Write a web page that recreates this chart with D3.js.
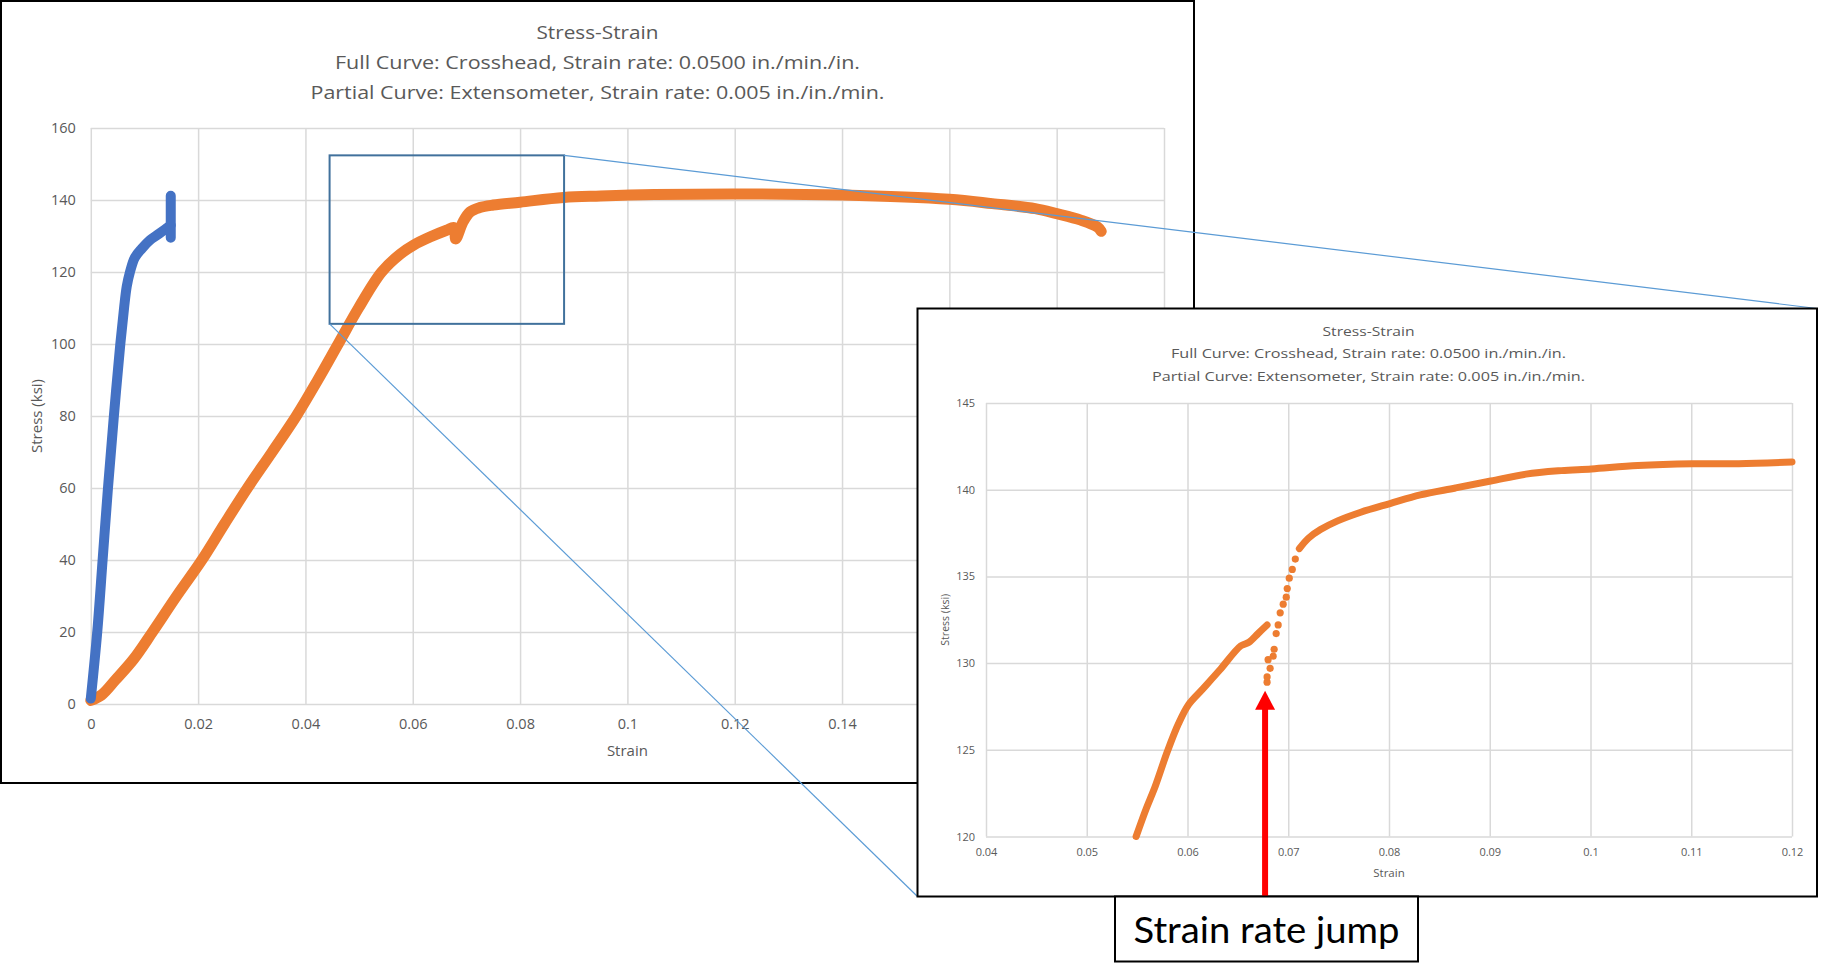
<!DOCTYPE html>
<html><head><meta charset="utf-8">
<script src="https://cdn.jsdelivr.net/npm/d3@7"></script>
<style>
html,body{margin:0;padding:0;background:#fff;}
svg{display:block;}
</style></head><body>
<svg id="c" width="1825" height="966"></svg>
<script>
// ---------- DATA ----------
const titleLines = ["Stress-Strain",
  "Full Curve: Crosshead, Strain rate: 0.0500 in./min./in.",
  "Partial Curve: Extensometer, Strain rate: 0.005 in./in./min."];

// Partial curve (extensometer) - blue
const extStrain = [0, 0.0012, 0.0022, 0.0032, 0.0043, 0.0055, 0.0062, 0.0067, 0.0073, 0.0082, 0.0095, 0.011, 0.0124, 0.0138, 0.0149, 0.0149, 0.0149];
const extStress = [1.5, 20, 40, 60, 80, 100, 110, 116, 120, 124, 126.5, 128.8, 130.3, 131.8, 133, 141.2, 129.5];

// Full curve (crosshead) - orange
const crossStrain = [0, 0.002, 0.0046, 0.008, 0.0115, 0.016, 0.0207, 0.0249, 0.0292, 0.0338, 0.0383, 0.0423, 0.0461, 0.0499, 0.0542, 0.0577, 0.0602, 0.0632, 0.0663, 0.0677, 0.068, 0.0694, 0.0707, 0.0725, 0.075, 0.08, 0.0881, 0.095, 0.105, 0.12, 0.14, 0.16, 0.168, 0.176, 0.18, 0.1845, 0.1876, 0.1883];
const crossStress = [1, 2.5, 6.7, 12.5, 20, 30, 40, 50, 60, 70, 80, 90, 100, 110, 120, 125, 127.5, 129.7, 131.6, 132.3, 129.2, 134, 136.7, 137.9, 138.6, 139.4, 140.7, 141.1, 141.5, 141.7, 141.4, 140.2, 139, 137.6, 136.2, 134.4, 132.5, 131.3];

// Inset (zoomed crosshead curve)
const insetStrainA = [0.0549, 0.0559, 0.0568, 0.058, 0.0591, 0.0601, 0.0615, 0.0632, 0.0653, 0.0661, 0.067, 0.0679];
const insetStressA = [120.0, 121.6, 122.9, 124.9, 126.5, 127.6, 128.5, 129.6, 131.0, 131.2, 131.7, 132.2];
const insetJumpStrain = [0.0679, 0.0679, 0.0682, 0.068, 0.0685, 0.0686, 0.0688, 0.069, 0.0692, 0.0695, 0.0698, 0.0699, 0.0701, 0.0704, 0.0707];
const insetJumpStress = [128.9, 129.2, 129.7, 130.2, 130.4, 130.8, 131.7, 132.2, 132.9, 133.4, 133.8, 134.3, 134.9, 135.4, 136.0];
const insetStrainB = [0.0711, 0.072, 0.0732, 0.0749, 0.0772, 0.0801, 0.0831, 0.0866, 0.0901, 0.0936, 0.0971, 0.1001, 0.1047, 0.1101, 0.1147, 0.12];
const insetStressB = [136.6, 137.2, 137.7, 138.2, 138.7, 139.2, 139.7, 140.1, 140.5, 140.9, 141.1, 141.2, 141.4, 141.5, 141.5, 141.6];

// Ticks
const mainXTicks = [0, 0.02, 0.04, 0.06, 0.08, 0.1, 0.12, 0.14, 0.16, 0.18, 0.2];
const mainXTickLabels = ["0", "0.02", "0.04", "0.06", "0.08", "0.1", "0.12", "0.14", "0.16", "0.18", "0.2"];
const mainYTicks = [0, 20, 40, 60, 80, 100, 120, 140, 160];
const mainYTickLabels = ["0", "20", "40", "60", "80", "100", "120", "140", "160"];
const insetXTicks = [0.04, 0.05, 0.06, 0.07, 0.08, 0.09, 0.1, 0.11, 0.12];
const insetXTickLabels = ["0.04", "0.05", "0.06", "0.07", "0.08", "0.09", "0.1", "0.11", "0.12"];
const insetYTicks = [120, 125, 130, 135, 140, 145];
const insetYTickLabels = ["120", "125", "130", "135", "140", "145"];

// Zoom box (data coordinates of the main chart) and arrow target (inset coordinates)
const zoomBoxStrain = [0.0445, 0.0882];
const zoomBoxStress = [105.6, 152.4];
const arrowStrain = 0.0677;
const arrowTipStress = 128.4;
const calloutText = "Strain rate jump";

// ---------- DRAW ----------
const svg = d3.select("#c");
const FONT = "'Open Sans', 'Noto Sans', sans-serif";
const GRID = "#d9d9d9", TXT = "#595959", BLUE = "#4472C4", ORANGE = "#ED7D31";

// Main chart frame
svg.append("rect").attr("x", 1).attr("y", 1).attr("width", 1193).attr("height", 782)
  .attr("fill", "#fff").attr("stroke", "#000").attr("stroke-width", 2);

const x = d3.scaleLinear().domain([0, 0.2]).range([90.8, 1164]);
const y = d3.scaleLinear().domain([0, 160]).range([704, 128]);

const gY = svg.append("g").attr("transform", `translate(${x(0)},0)`)
  .call(d3.axisLeft(y).tickValues(mainYTicks).tickFormat((d, i) => mainYTickLabels[i])
    .tickSize(-(x(0.2) - x(0))).tickPadding(15));
gY.select(".domain").remove();
gY.selectAll("line").attr("stroke", GRID).attr("stroke-width", 1.5);
gY.selectAll("text").attr("fill", TXT).style("font-family", FONT).style("font-size", "14.5px");

const gX = svg.append("g").attr("transform", `translate(0,${y(0)})`)
  .call(d3.axisBottom(x).tickValues(mainXTicks).tickFormat((d, i) => mainXTickLabels[i])
    .tickSize(-(y(0) - y(160))).tickPadding(15));
gX.select(".domain").remove();
gX.selectAll("line").attr("stroke", GRID).attr("stroke-width", 1.5);
gX.selectAll("text").attr("fill", TXT).style("font-family", FONT).style("font-size", "14.5px");

// Main titles
const mainTitleY = [38.5, 68.5, 98.5];
const mainTitleW = [122, 525, 574];
titleLines.forEach((t, i) => {
  svg.append("text").attr("x", 597.5).attr("y", mainTitleY[i]).attr("text-anchor", "middle")
    .attr("fill", TXT).style("font-family", FONT).style("font-size", "18px")
    .attr("textLength", mainTitleW[i]).attr("lengthAdjust", "spacingAndGlyphs").text(t);
});

// Axis titles
svg.append("text").attr("x", (x(0) + x(0.2)) / 2).attr("y", 756).attr("text-anchor", "middle")
  .attr("fill", TXT).style("font-family", FONT).style("font-size", "15px").text("Strain");
svg.append("text").attr("transform", `translate(42,${(y(0) + y(160)) / 2}) rotate(-90)`)
  .attr("text-anchor", "middle").attr("fill", TXT).style("font-family", FONT).style("font-size", "15px")
  .text("Stress (ksi)");

// Series
const ext = extStrain.map((s, i) => [s, extStress[i]]);
const cross = crossStrain.map((s, i) => [s, crossStress[i]]);
const lineMain = d3.line().x(d => x(d[0])).y(d => y(d[1])).curve(d3.curveCatmullRom.alpha(0.5));
const lineMainLin = d3.line().x(d => x(d[0])).y(d => y(d[1]));

svg.append("path").attr("d", lineMain(cross)).attr("fill", "none").attr("stroke", ORANGE)
  .attr("stroke-width", 11).attr("stroke-linecap", "round").attr("stroke-linejoin", "round");
svg.append("path").attr("d", lineMain(ext.slice(0, 15))).attr("fill", "none").attr("stroke", BLUE)
  .attr("stroke-width", 10).attr("stroke-linecap", "round").attr("stroke-linejoin", "round");
svg.append("path").attr("d", lineMainLin(ext.slice(14))).attr("fill", "none").attr("stroke", BLUE)
  .attr("stroke-width", 10).attr("stroke-linecap", "round").attr("stroke-linejoin", "round");

// Zoom box
svg.append("rect").attr("x", x(zoomBoxStrain[0])).attr("y", y(zoomBoxStress[1]))
  .attr("width", x(zoomBoxStrain[1]) - x(zoomBoxStrain[0]))
  .attr("height", y(zoomBoxStress[0]) - y(zoomBoxStress[1]))
  .attr("fill", "none").attr("stroke", "#41719C").attr("stroke-width", 2);

// Inset frame geometry
const inL = 917.5, inT = 308.5, inR = 1817, inB = 896.5;

// Connector lines
svg.append("line").attr("x1", x(zoomBoxStrain[1])).attr("y1", y(zoomBoxStress[1]))
  .attr("x2", inR).attr("y2", inT).attr("stroke", "#5B9BD5").attr("stroke-width", 1.2);
svg.append("line").attr("x1", x(zoomBoxStrain[0])).attr("y1", y(zoomBoxStress[0]))
  .attr("x2", inL).attr("y2", inB).attr("stroke", "#5B9BD5").attr("stroke-width", 1.2);

// Inset
const ins = svg.append("g");
ins.append("rect").attr("x", inL).attr("y", inT).attr("width", inR - inL).attr("height", inB - inT)
  .attr("fill", "#fff").attr("stroke", "#000").attr("stroke-width", 2);

const xI = d3.scaleLinear().domain([0.04, 0.12]).range([986, 1792]);
const yI = d3.scaleLinear().domain([120, 145]).range([836.5, 403]);

const gYI = ins.append("g").attr("transform", `translate(${xI(0.04)},0)`)
  .call(d3.axisLeft(yI).tickValues(insetYTicks).tickFormat((d, i) => insetYTickLabels[i])
    .tickSize(-(xI(0.12) - xI(0.04))).tickPadding(11));
gYI.select(".domain").remove();
gYI.selectAll("line").attr("stroke", GRID).attr("stroke-width", 1.5);
gYI.selectAll("text").attr("fill", TXT).style("font-family", FONT).style("font-size", "11px");

const gXI = ins.append("g").attr("transform", `translate(0,${yI(120)})`)
  .call(d3.axisBottom(xI).tickValues(insetXTicks).tickFormat((d, i) => insetXTickLabels[i])
    .tickSize(-(yI(120) - yI(145))).tickPadding(12));
gXI.select(".domain").remove();
gXI.selectAll("line").attr("stroke", GRID).attr("stroke-width", 1.5);
gXI.selectAll("text").attr("fill", TXT).style("font-family", FONT).style("font-size", "11px");

const insetTitleY = [335.5, 357.5, 380.5];
const insetTitleW = [92, 395, 433];
titleLines.forEach((t, i) => {
  ins.append("text").attr("x", 1368.5).attr("y", insetTitleY[i]).attr("text-anchor", "middle")
    .attr("fill", TXT).style("font-family", FONT).style("font-size", "13.5px")
    .attr("textLength", insetTitleW[i]).attr("lengthAdjust", "spacingAndGlyphs").text(t);
});
ins.append("text").attr("x", (xI(0.04) + xI(0.12)) / 2).attr("y", 876.5).attr("text-anchor", "middle")
  .attr("fill", TXT).style("font-family", FONT).style("font-size", "11.5px").text("Strain");
ins.append("text").attr("transform", `translate(949,${(yI(120) + yI(145)) / 2}) rotate(-90)`)
  .attr("text-anchor", "middle").attr("fill", TXT).style("font-family", FONT).style("font-size", "10.5px")
  .text("Stress (ksi)");

const lineI = d3.line().x(d => xI(d[0])).y(d => yI(d[1])).curve(d3.curveCatmullRom.alpha(0.5));
const partA = insetStrainA.map((s, i) => [s, insetStressA[i]]);
const partB = insetStrainB.map((s, i) => [s, insetStressB[i]]);
const jump = insetJumpStrain.map((s, i) => [s, insetJumpStress[i]]);
[partA, partB].forEach(p => {
  ins.append("path").attr("d", lineI(p)).attr("fill", "none").attr("stroke", ORANGE)
    .attr("stroke-width", 7).attr("stroke-linecap", "round").attr("stroke-linejoin", "round");
});
ins.selectAll("circle.j").data(jump).enter().append("circle").attr("class", "j")
  .attr("cx", d => xI(d[0])).attr("cy", d => yI(d[1])).attr("r", 3.6).attr("fill", ORANGE);

// Red arrow
const ax = xI(arrowStrain), tipY = yI(arrowTipStress);
svg.append("line").attr("x1", ax).attr("x2", ax).attr("y1", inB).attr("y2", tipY + 16)
  .attr("stroke", "#FF0000").attr("stroke-width", 6);
svg.append("path").attr("d", `M${ax},${tipY} L${ax - 10},${tipY + 19} L${ax + 10},${tipY + 19} Z`)
  .attr("fill", "#FF0000");

// Callout box
svg.append("rect").attr("x", 1115).attr("y", inB).attr("width", 303).attr("height", 65)
  .attr("fill", "#fff").attr("stroke", "#000").attr("stroke-width", 2);
svg.append("text").attr("x", 1266.5).attr("y", 943).attr("text-anchor", "middle")
  .attr("fill", "#000").style("font-family", "Lato, 'Open Sans', sans-serif").style("font-size", "37px")
  .attr("textLength", 266).attr("lengthAdjust", "spacingAndGlyphs").text(calloutText);
</script>
</body></html>
